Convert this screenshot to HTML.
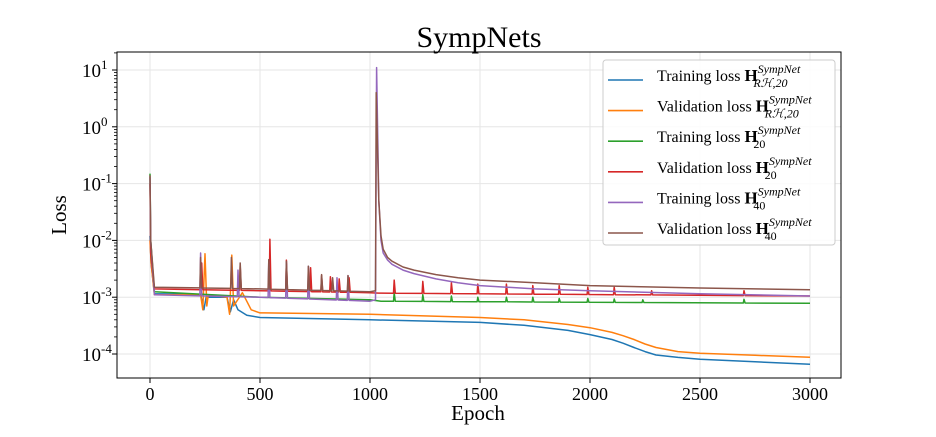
<!DOCTYPE html>
<html><head><meta charset="utf-8"><style>
body{margin:0;background:#fff;}
svg text{font-family:"Liberation Serif","DejaVu Serif",serif;fill:#000;}
</style></head><body>
<svg id="chart" width="936" height="432" xmlns="http://www.w3.org/2000/svg">
<text x="479" y="47" font-size="30" text-anchor="middle">SympNets</text>
<g id="grid"></g>
<g id="series"></g>
<rect x="117" y="52" width="724" height="326" fill="none" stroke="#000" stroke-width="1"/>
<g id="ticks"></g>
<text x="478" y="420" font-size="21" text-anchor="middle">Epoch</text>
<text x="66" y="215" font-size="21" text-anchor="middle" transform="rotate(-90 66 215)">Loss</text>
<g id="legend">
<rect x="603" y="60" width="232" height="185" rx="3" fill="#fff" fill-opacity="0.85" stroke="#ccc"/>
</g>
</svg>
<script>
const xTicks=[0,500,1000,1500,2000,2500,3000];
const yTickExps=[-4,-3,-2,-1,0,1];
const colors=["#1f77b4","#ff7f0e","#2ca02c","#d62728","#9467bd","#8c564b"];
const legendTitles=["Training loss","Validation loss","Training loss","Validation loss","Training loss","Validation loss"];
const legendSubs=["R\u210B,20","R\u210B,20","20","20","40","40"];
// base knots (epoch, loss)
const blueE=[0,5,20,230,245,255,350,365,380,400,440,500,1000,1500,1700,1900,2000,2100,2150,2200,2250,2300,2400,2500,2750,3000];
const blueV=[0.012,0.004,0.00115,0.00112,0.0006,0.001,0.001,0.00055,0.0009,0.0006,0.00048,0.00044,0.0004,0.00036,0.00032,0.00026,0.00022,0.00018,0.000155,0.00013,0.00011,0.000096,0.000087,0.000081,0.000073,0.000066];
const orangeE=[0,5,20,230,240,250,258,265,350,362,372,380,420,460,500,520,1000,1500,1700,1900,2000,2100,2150,2200,2250,2300,2400,2500,2750,3000];
const orangeV=[0.01,0.004,0.0011,0.0011,0.0006,0.0058,0.0007,0.0011,0.001,0.0005,0.0055,0.0007,0.0012,0.0006,0.00053,0.00053,0.0005,0.00044,0.0004,0.00033,0.00029,0.00024,0.00021,0.00018,0.00015,0.00013,0.00011,0.000103,0.000095,0.000088];
const greenE=[0,3,20,500,1000,1050,3000];
const greenV=[0.15,0.01,0.00125,0.001,0.0009,0.00085,0.00078];
const redE=[0,3,20,500,1000,1040,3000];
const redV=[0.1,0.006,0.0014,0.0013,0.0012,0.00118,0.00105];
const purpleE=[0,3,20,500,1000,1025,1030,1040,1050,1060,1080,1100,1150,1200,1300,1400,1500,1750,2000,2500,3000];
const purpleV=[0.13,0.01,0.0011,0.001,0.00085,0.0009,11,0.05,0.01,0.006,0.0045,0.0038,0.003,0.0026,0.0021,0.0018,0.0016,0.0014,0.0013,0.00115,0.00105];
const brownE=[0,3,20,500,1000,1025,1028,1040,1050,1060,1080,1100,1150,1200,1300,1400,1500,1750,2000,2500,3000];
const brownV=[0.14,0.01,0.0015,0.0014,0.00125,0.0013,4.0,0.05,0.012,0.007,0.005,0.0043,0.0034,0.003,0.0025,0.0022,0.002,0.0018,0.0016,0.00145,0.00135];
// spikes (epoch, peak)
const blueSpkE=[];const blueSpkV=[];
const orangeSpkE=[];const orangeSpkV=[];
const greenSpkE=[1110,1240,1370,1490,1620,1740,1860,1990,2110,2240,2700];
const greenSpkV=[0.0012,0.0011,0.00105,0.001,0.001,0.001,0.00095,0.00095,0.00093,0.0009,0.00092];
const redSpkE=[235,410,545,620,730,780,820,860,905,1110,1240,1370,1490,1620,1740,1860,1990,2110,2280,2700];
const redSpkV=[0.004,0.0035,0.0105,0.0045,0.0033,0.0024,0.0023,0.0021,0.0022,0.002,0.0019,0.0018,0.0017,0.0017,0.0016,0.0016,0.0015,0.0015,0.0013,0.0013];
const purpleSpkE=[230,400,540,620,720,850,900];
const purpleSpkV=[0.006,0.003,0.0045,0.004,0.0035,0.0022,0.0024];
const brownSpkE=[230,370,410,540,620,720,780,830,900];
const brownSpkV=[0.005,0.005,0.004,0.0046,0.0043,0.0035,0.0025,0.0022,0.0024];

const X0=150,X1=810,YE=1,YP=70,DEC=56.8;
function xs(e){return X0+(X1-X0)*e/3000;}
function ys(v){return YP+(YE-Math.log10(v))*DEC;}
function interp(E,V,e){for(let i=1;i<E.length;i++){if(e<=E[i]){const t=(e-E[i-1])/(E[i]-E[i-1]);return Math.pow(10,Math.log10(V[i-1])*(1-t)+Math.log10(V[i])*t);}}return V[V.length-1];}
const NS="http://www.w3.org/2000/svg";
function mk(t,a,p){const el=document.createElementNS(NS,t);for(const k in a)el.setAttribute(k,a[k]);p.appendChild(el);return el;}
const grid=document.getElementById('grid'),ticks=document.getElementById('ticks');
xTicks.forEach(t=>{const x=xs(t);
 const g=mk('line',{x1:x,x2:x,y1:52,y2:378,stroke:'#e6e6e6','stroke-width':1},grid);
 
 
 const tk=mk('line',{x1:x,x2:x,y1:378,y2:383,stroke:'#000'},ticks);
 
 
 const tx=mk('text',{x:x,y:400,'font-size':18,'text-anchor':'middle'},ticks);tx.textContent=t;
 
 
});
yTickExps.forEach(p=>{const y=ys(Math.pow(10,p));
 const g=mk('line',{x1:117,x2:841,y1:y,y2:y,stroke:'#e6e6e6'},grid);
 
 
 const tk=mk('line',{x1:112,x2:117,y1:y,y2:y,stroke:'#000'},ticks);
 
 
 for(let m=2;m<10;m++){const yy=ys(m*Math.pow(10,p));if(yy>52&&yy<378){const mt=mk('line',{x1:114,x2:117,y1:yy,y2:yy,stroke:'#000','stroke-width':0.8},ticks);
 
 }}
 const tx=mk('text',{x:82,y:y+7,'font-size':19},ticks);
 
 
 tx.textContent='10';const s=mk('tspan',{dy:-8,'font-size':13},tx);s.textContent=String(p);
});
const all=[[blueE,blueV,blueSpkE,blueSpkV],[orangeE,orangeV,orangeSpkE,orangeSpkV],[greenE,greenV,greenSpkE,greenSpkV],[redE,redV,redSpkE,redSpkV],[purpleE,purpleV,purpleSpkE,purpleSpkV],[brownE,brownV,brownSpkE,brownSpkV]];
const names=['training-rh20','validation-rh20','training-h20','validation-h20','training-h40','validation-h40'];
const sg=document.getElementById('series');
all.forEach((s,i)=>{const [E,V,SE,SV]=s;let pts=E.map((e,j)=>[e,V[j]]);
 SE.forEach((e,j)=>{pts.push([e-3,interp(E,V,e-3)]);pts.push([e,SV[j]]);pts.push([e+5,interp(E,V,e+5)]);});
 pts.sort((a,b)=>a[0]-b[0]);
 const d=pts.map((p,k)=>(k?'L':'M')+xs(p[0]).toFixed(1)+' '+ys(p[1]).toFixed(1)).join(' ');
 const path=mk('path',{d:d,fill:'none',stroke:colors[i],'stroke-width':1.5,'stroke-linejoin':'round'},sg);
 
 
});
const lg=document.getElementById('legend');
legendTitles.forEach((t,i)=>{const y=80+i*30.6;
 const l=mk('line',{x1:608,x2:643,y1:y,y2:y,stroke:colors[i],'stroke-width':1.6},lg);
 
 
 const tx=mk('text',{x:657,y:y+1,'font-size':16},lg);
 
 
 tx.textContent=t+' ';
 const h=mk('tspan',{'font-weight':'bold','font-size':17},tx);h.textContent='H';
 const sup=mk('tspan',{'font-size':12,'font-style':'italic',dy:-8},tx);sup.textContent='SympNet';
 const sub=mk('tspan',{'font-size':12,'font-style':(i<2?'italic':'normal'),dx:-47,dy:14},tx);sub.textContent=legendSubs[i];
});
</script>
</body></html>
